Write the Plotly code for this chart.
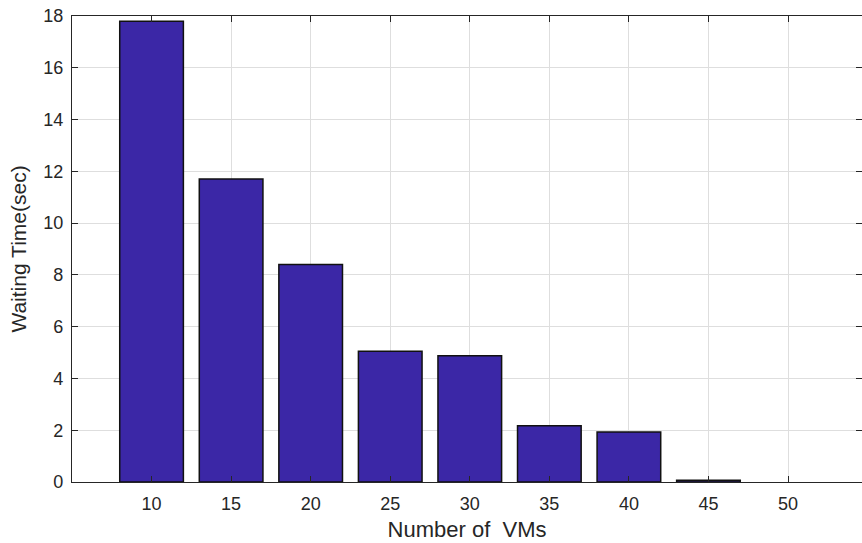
import plotly.graph_objects as go

# Number of VMs and the measured waiting time for each
vms = [10, 15, 20, 25, 30, 35, 40, 45, 50]
waiting_time = [17.8, 11.7, 8.4, 5.05, 4.88, 2.17, 1.93, 0.07, 0.0]
y_ticks = [0, 2, 4, 6, 8, 10, 12, 14, 16, 18]

axis_color = "#262626"
font_family = "Liberation Sans, Arial, sans-serif"

# empty bars get no outline so nothing is drawn on the baseline
outline_widths = [1.5 if v > 0 else 0 for v in waiting_time]

fig = go.Figure(
    go.Bar(
        x=vms,
        y=waiting_time,
        width=4.0,
        marker=dict(color="#3b27a6", line=dict(color="#111111", width=outline_widths)),
    )
)

fig.update_layout(
    width=862,
    height=543,
    margin=dict(l=72, r=0, t=16, b=61),
    paper_bgcolor="white",
    plot_bgcolor="white",
    showlegend=False,
    font=dict(family=font_family, color=axis_color),
)

fig.update_xaxes(
    range=[5, 54.65],
    tickvals=vms,
    ticktext=[str(v) for v in vms],
    ticks="inside",
    ticklen=6,
    tickwidth=1.2,
    tickcolor=axis_color,
    ticklabelstandoff=5,
    showline=True,
    linecolor=axis_color,
    linewidth=1.2,
    mirror="ticks",
    showgrid=True,
    gridcolor="#dedede",
    gridwidth=1,
    zeroline=False,
    tickfont=dict(size=18, color=axis_color),
    title=dict(text="Number of  VMs", font=dict(size=22, color=axis_color), standoff=8),
)

fig.update_yaxes(
    range=[0, 18],
    tickvals=y_ticks,
    ticks="inside",
    ticklen=6,
    tickwidth=1.2,
    tickcolor=axis_color,
    ticklabelstandoff=4,
    showline=True,
    linecolor=axis_color,
    linewidth=1.2,
    mirror="ticks",
    showgrid=True,
    gridcolor="#dedede",
    gridwidth=1,
    zeroline=False,
    tickfont=dict(size=18, color=axis_color),
    title=dict(text="Waiting Time(sec)", font=dict(size=21, color=axis_color), standoff=10),
)

fig.write_html("out.html")
